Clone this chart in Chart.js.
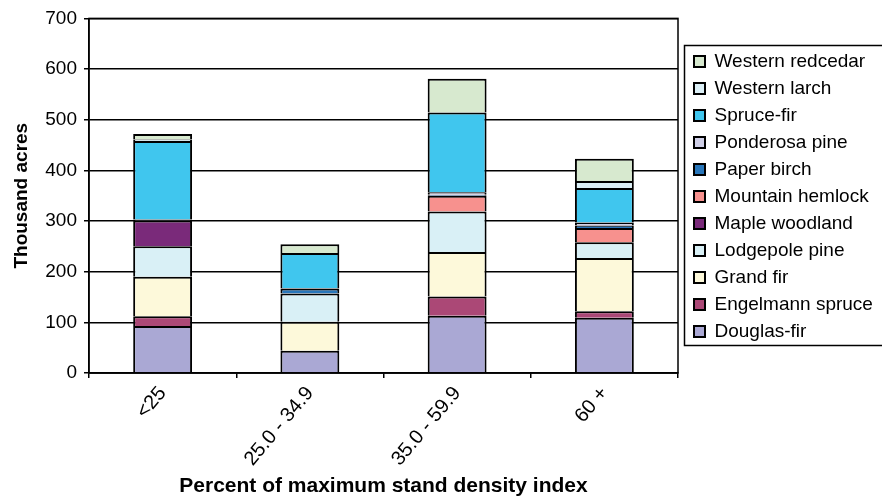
<!DOCTYPE html>
<html>
<head>
<meta charset="utf-8">
<script src="https://cdn.jsdelivr.net/npm/chart.js@4/dist/chart.umd.min.js"></script>
<style>
html,body{margin:0;padding:0;background:#fff;}
#wrap{width:882px;height:500px;position:relative;}
</style>
</head>
<body>
<div id="wrap"><canvas id="c" width="882" height="500"></canvas></div>
<script>
const categories = ['<25', '25.0 - 34.9', '35.0 - 59.9', '60 +'];
const douglasFir      = [93, 44, 113, 109];
const engelmannSpruce = [19, 0, 38, 13];
const grandFir        = [78, 57, 88, 105];
const lodgepolePine   = [60, 56, 80, 31];
const mapleWoodland   = [51, 0, 0, 0];
const mountainHemlock = [0, 0, 31, 28];
const paperBirch      = [0, 10, 2, 5];
const ponderosaPine   = [2, 1, 5, 6];
const spruceFir       = [155, 69, 157, 68];
const westernLarch    = [3, 0, 0, 14];
const westernRedcedar = [11, 17, 67, 44];
const yTicks = [0, 100, 200, 300, 400, 500, 600, 700];

const seriesNames = ['Douglas-fir','Engelmann spruce','Grand fir','Lodgepole pine','Maple woodland',
  'Mountain hemlock','Paper birch','Ponderosa pine','Spruce-fir','Western larch','Western redcedar'];
const seriesData = [douglasFir, engelmannSpruce, grandFir, lodgepolePine, mapleWoodland,
  mountainHemlock, paperBirch, ponderosaPine, spruceFir, westernLarch, westernRedcedar];
const seriesColors = ['#aaa8d4','#ab4876','#fdf9da','#d9f0f6','#7a2a7a',
  '#f7918e','#2876ba','#d0d0e8','#40c6ee','#dcf0f7','#d7e9cf'];

Chart.defaults.font.family = "'Liberation Sans', Arial, sans-serif";
Chart.defaults.color = '#000';

const framePlugin = {
  id: 'frames',
  beforeLayout(chart) {
    const lg = chart.legend;
    if (lg && !lg._patched) {
      const orig = lg.fit;
      lg.fit = function () { orig.call(this); this.width = 204; };
      lg._patched = true;
    }
  },
  afterLayout(chart) {
    const lg = chart.legend;
    if (lg) {
      lg.left = 686; lg.right = 882; lg.top = 44; lg.bottom = 500;
    }
  },
  afterDraw(chart) {
    const ctx = chart.ctx;
    const a = chart.chartArea;
    ctx.save();
    ctx.strokeStyle = '#000';
    ctx.lineWidth = 1.5;
    ctx.strokeRect(a.left, a.top, a.right - a.left, a.bottom - a.top);
    const lg = chart.legend;
    ctx.strokeRect(lg.left - 1.5, lg.top + 1.5, 260, 300);
    ctx.restore();
  }
};

new Chart(document.getElementById('c'), {
  type: 'bar',
  data: {
    labels: categories,
    datasets: seriesNames.map((n, i) => ({
      label: n,
      data: seriesData[i],
      backgroundColor: seriesColors[i],
      borderColor: '#000',
      borderWidth: 2,
      categoryPercentage: 1,
      barPercentage: 0.4
    }))
  },
  options: {
    responsive: false,
    animation: false,
    layout: { padding: { top: 17, left: 0, right: 0, bottom: 0 } },
    plugins: {
      tooltip: { enabled: false },
      legend: {
        position: 'right',
        align: 'start',
        reverse: true,
        labels: {
          boxWidth: 11,
          boxHeight: 11,
          padding: 8,
          font: { size: 19 },
          color: '#000'
        }
      }
    },
    scales: {
      x: {
        stacked: true,
        grid: { display: true, drawOnChartArea: false, drawTicks: true, tickLength: 5, color: '#000', lineWidth: 1.5, offset: true },
        border: { display: true, color: '#000', width: 1.5 },
        ticks: { font: { size: 20 }, minRotation: 50, maxRotation: 50, padding: 4, color: '#000' },
        title: { display: true, text: 'Percent of maximum stand density index', font: { size: 21, weight: 'bold' }, padding: { top: 1, bottom: 1 } },
        afterFit(s) { s.height = 127; }
      },
      y: {
        stacked: true,
        min: 0, max: 700,
        afterBuildTicks(s) { s.ticks = yTicks.map(v => ({ value: v })); },
        grid: { color: '#000', lineWidth: 1.5, drawTicks: true, tickLength: 5 },
        border: { display: true, color: '#000', width: 1.5 },
        ticks: { font: { size: 19 }, padding: 7, color: '#000' },
        title: { display: true, text: 'Thousand acres', font: { size: 19, weight: 'bold' }, padding: { top: 10, bottom: 0 } },
        afterFit(s) { s.width = 89; }
      }
    }
  },
  plugins: [framePlugin]
});
</script>
</body>
</html>
